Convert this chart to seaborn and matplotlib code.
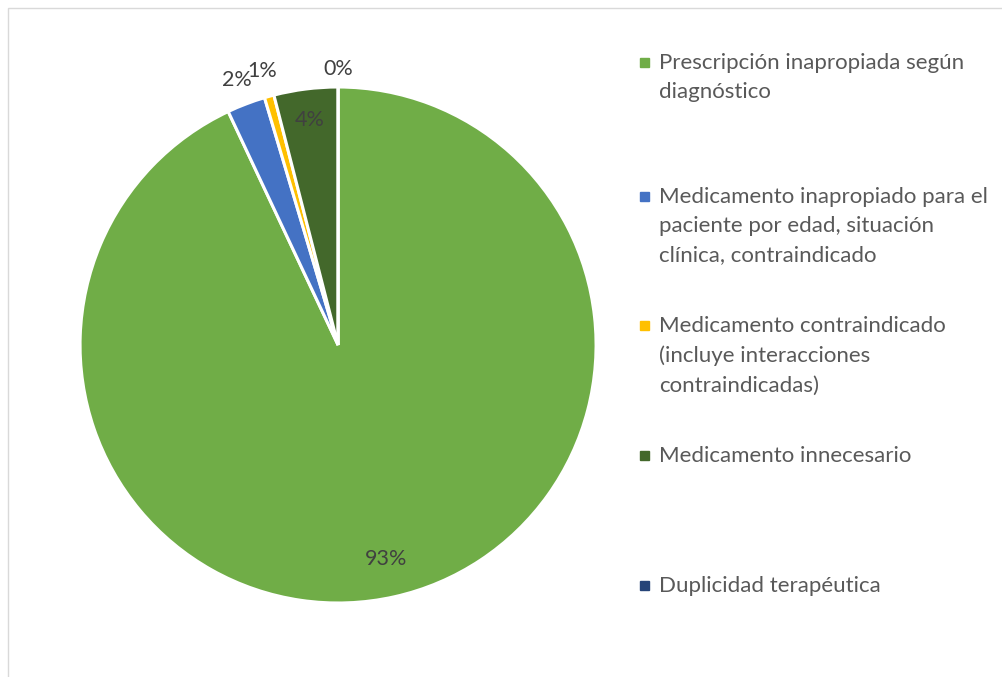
import numpy as np
import seaborn as sns
import matplotlib
matplotlib.use("Agg")
import matplotlib.pyplot as plt
from matplotlib.patches import Rectangle

# data (percent of errors)
categorias = [
    "Prescripción inapropiada según\ndiagnóstico",
    "Medicamento inapropiado para el\npaciente por edad, situación\nclínica, contraindicado",
    "Medicamento contraindicado\n(incluye interacciones\ncontraindicadas)",
    "Medicamento innecesario",
    "Duplicidad terapéutica",
]
valores = [93.0, 2.4, 0.6, 4.0, 0.0]
etiquetas = ["93%", "2%", "1%", "4%", "0%"]
colores = ["#70AD47", "#4472C4", "#FFC000", "#43682B", "#264478"]

sns.set_theme(style="white")
plt.rcParams["font.family"] = ["Lato", "DejaVu Sans"]

fig = plt.figure(figsize=(10.03, 6.77), dpi=100)
ax = fig.add_axes([0.0798, 0.1093, 0.5145, 0.7622])

wedges, _ = ax.pie(valores, colors=sns.color_palette(colores), startangle=90,
                   counterclock=False, radius=1,
                   wedgeprops=dict(edgecolor="white", linewidth=2.2))
ax.set_xlim(-1, 1)
ax.set_ylim(-1, 1)
ax.set_aspect("equal")
ax.axis("off")

# label placement: inside for big slices, outside for small ones
dist = [0.85, 1.10, 1.10, 0.88, 1.07]
for w, lab, d in zip(wedges, etiquetas, dist):
    ang = np.deg2rad((w.theta1 + w.theta2) / 2)
    ax.text(d * np.cos(ang), d * np.sin(ang), lab, ha="center", va="center",
            fontsize=15.5, color="#404040")

# manual legend (Excel style, evenly spaced entries)
tops = [62, 196, 325, 455, 585]
for cat, col, top in zip(categorias, colores, tops):
    fig.patches.append(Rectangle((640 / 1003, 1 - (top + 5) / 677), 9 / 1003, 9 / 677,
                                 transform=fig.transFigure, color=col, figure=fig))
    fig.text(659 / 1003, 1 - (top - 9) / 677, cat, ha="left", va="top",
             fontsize=16, color="#595959", linespacing=1.58)

# chart frame
fig.patches.append(Rectangle((8 / 1003, -0.1), 1.2, 1 - 8 / 677 + 0.1,
                             transform=fig.transFigure, fill=False,
                             edgecolor="#D9D9D9", linewidth=1, figure=fig))

fig.savefig("out.png", dpi=100)
